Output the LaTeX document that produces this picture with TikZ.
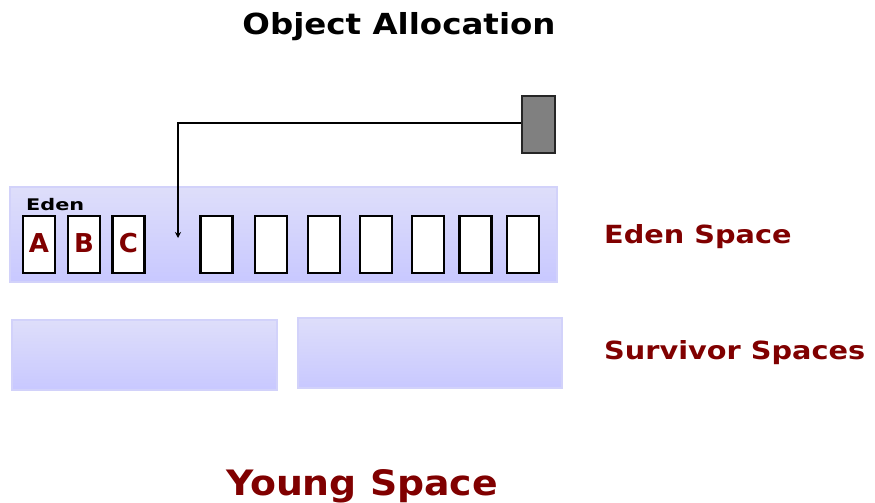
\documentclass[tikz,border=0pt]{standalone}
\usepackage{fontspec}
\setmainfont{DejaVu Sans}
\usetikzlibrary{arrows.meta}
\definecolor{darkred}{RGB}{128,0,0}
\definecolor{lavtop}{RGB}{222,222,250}
\definecolor{lavbot}{RGB}{200,200,255}
\definecolor{lavedge}{RGB}{210,210,250}
\newcommand\stretchtxt[2]{\scalebox{#1}[1]{#2}}
\begin{document}
\begin{tikzpicture}[x=1pt,y=-1pt,
  space/.style={draw=lavedge, line width=1.2pt, top color=lavtop, bottom color=lavbot, inner sep=0pt},
  cell/.style={draw=black, line width=2.2pt, fill=white, minimum width=32pt, minimum height=57pt, inner sep=0pt},
  title/.style={font=\bfseries\fontsize{29}{30}\selectfont, inner sep=0pt},
  label/.style={font=\bfseries\fontsize{25}{26}\selectfont, text=darkred, inner sep=0pt, anchor=base west},
  letter/.style={font=\bfseries\fontsize{26}{26}\selectfont, text=darkred, inner sep=0pt, anchor=base}
]
\useasboundingbox (0,0) rectangle (875,503);
% title
\node[title, anchor=base] (title) at (399,35) {\stretchtxt{1.12}{Object Allocation}};
% eden space
\node[space, minimum width=547pt, minimum height=95pt] (eden) at (283.5,234.5) {};
\node[font=\bfseries\fontsize{16}{17}\selectfont, inner sep=0pt, anchor=base west] (edenlbl) at (26,210) {\stretchtxt{1.3}{Eden}};
% cells
\node[cell] (ca) at (39,244.5) {};
\node[cell] (cb) at (84,244.5) {};
\node[cell] (cc) at (128.5,244.5) {};
\node[letter] (la) at (39,252) {A};
\node[letter] (lb) at (84,252) {B};
\node[letter] (lc) at (128.5,252) {C};
\node[cell] (c1) at (216.5,244.5) {};
\node[cell] (c2) at (271,244.5) {};
\node[cell] (c3) at (324,244.5) {};
\node[cell] (c4) at (376,244.5) {};
\node[cell] (c5) at (428,244.5) {};
\node[cell] (c6) at (475.5,244.5) {};
\node[cell] (c7) at (523,244.5) {};
% allocating object
\node[draw=black!85, line width=2pt, fill=black!50, minimum width=33pt, minimum height=57pt, inner sep=0pt] (obj) at (538,124) {};
\coordinate (bend) at (178,123);
\coordinate (tip) at (178,238);
\draw[line width=1.9pt, -{Stealth[length=6pt,width=6pt]}] (obj.west |- bend) -- (bend) -- (tip);
% survivor spaces
\node[space, minimum width=265pt, minimum height=70pt] (s0) at (144.5,355) {};
\node[space, minimum width=264pt, minimum height=70pt] (s1) at (430,353) {};
% labels
\node[label] (edenspace) at (604,243) {\stretchtxt{1.15}{Eden Space}};
\node[label] (survspace) at (604,359) {\stretchtxt{1.15}{Survivor Spaces}};
\node[font=\bfseries\fontsize{35}{36}\selectfont, text=darkred, inner sep=0pt, anchor=base] (young) at (362,495) {\stretchtxt{1.08}{Young Space}};
\end{tikzpicture}
\end{document}
